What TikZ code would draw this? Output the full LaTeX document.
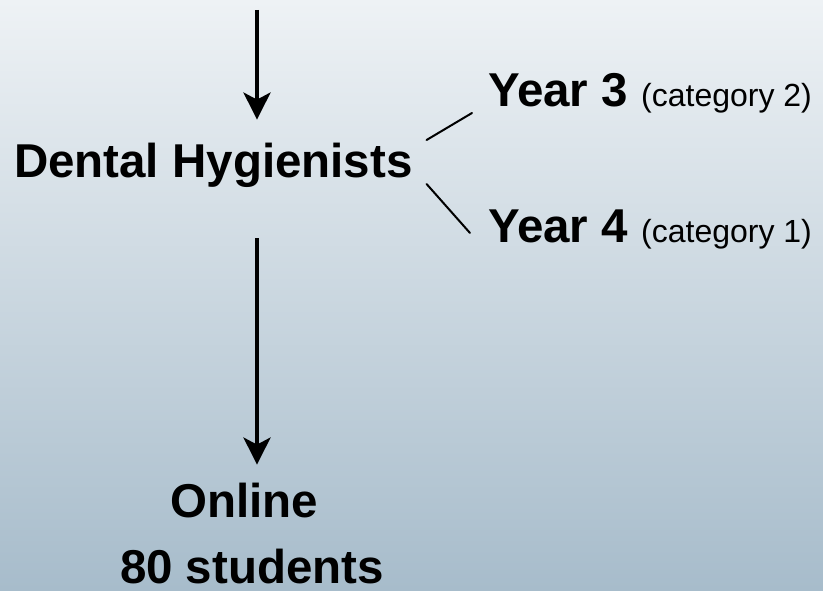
\documentclass[tikz,border=0pt]{standalone}
\usepackage{fontspec}
\setmainfont{Liberation Sans}
\usetikzlibrary{arrows.meta,positioning,calc}
\definecolor{skytop}{HTML}{EEF2F5}
\definecolor{skybottom}{HTML}{A7BCCB}
\tikzstyle{label} = [inner sep=0,outer sep=0,font=\fontsize{47.5}{50}\selectfont\bfseries]
\tikzstyle{flow} = [-{Stealth[length=27pt,width=27pt,inset=7pt]},line width=4pt]
\tikzstyle{branch} = [-,line width=2pt,line cap=round]
\newcommand{\cat}[1]{{\fontsize{32}{34}\selectfont\mdseries #1}}

\begin{document}
\begin{tikzpicture}[x=1pt,y=1pt]
      \shade[top color=skytop,bottom color=skybottom] (0,0) rectangle (823,590);
      \useasboundingbox (0,0) rectangle (823,590);
      \node[label,anchor=base west] (dental) at (14,412) {Dental Hygienists};
      \node[label,anchor=base west] (y3) at (488,483) {Year 3 \cat{(category 2)}};
      \node[label,anchor=base west] (y4) at (488,347) {Year 4 \cat{(category 1)}};
      \node[label,anchor=base] (online) at (244,73) {Online};
      \node[label,anchor=base] (students) at (252,7) {80 students};
      \coordinate (src) at (257,580);
      \draw[flow,shorten >=24pt] (src) -- (src |- dental.north);
      \draw[flow,shorten <=50pt,shorten >=18pt] (src |- dental.south) -- (src |- online.north);
      \draw[branch] ([shift={(14,38)}]dental.base east) -- ([shift={(-16,-6)}]y3.base west);
      \draw[branch] ([shift={(14,-6)}]dental.base east) -- ([shift={(-18,10)}]y4.base west);
    \end{tikzpicture}
\end{document}
